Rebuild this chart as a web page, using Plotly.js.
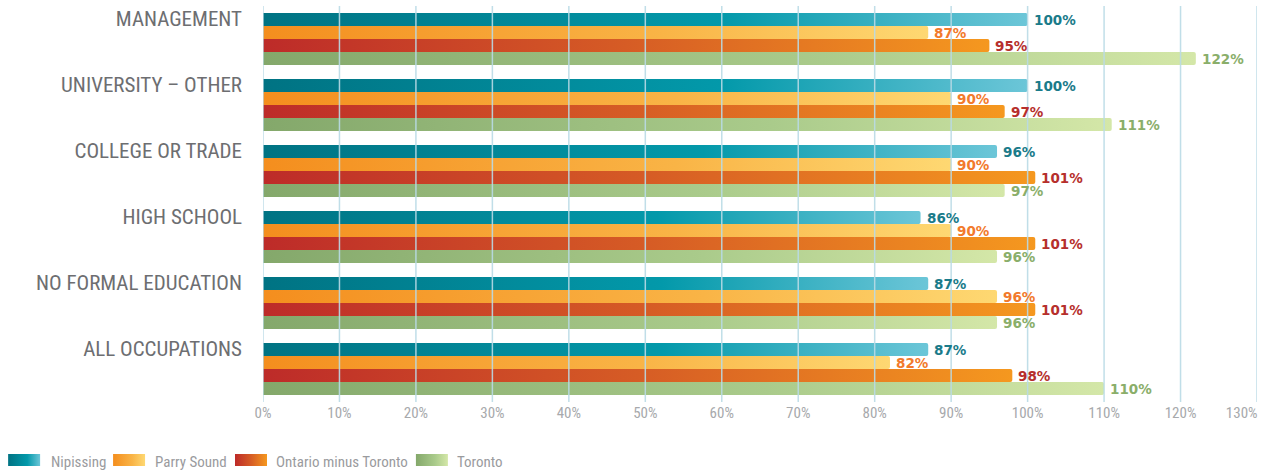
<!DOCTYPE html>
<html>
<head>
<meta charset="utf-8">
<script src="https://cdn.plot.ly/plotly-3.0.1.min.js"></script>
<style>
  html, body { margin: 0; padding: 0; background: #fff; }
  #chart { width: 1263px; height: 474px; }
</style>
</head>
<body>
<div id="chart"></div>
<script>
// data, top category first
const categories = ["MANAGEMENT", "UNIVERSITY – OTHER", "COLLEGE OR TRADE", "HIGH SCHOOL", "NO FORMAL EDUCATION", "ALL OCCUPATIONS"];
const seriesNames = ["Nipissing", "Parry Sound", "Ontario minus Toronto", "Toronto"];
const nipissing = [100, 100, 96, 86, 87, 87];
const parrySound = [87, 90, 90, 90, 96, 82];
const ontarioMinusToronto = [95, 97, 101, 101, 101, 98];
const toronto = [122, 111, 97, 96, 96, 110];
const gridTicks = [0, 10, 20, 30, 40, 50, 60, 70, 80, 90, 100, 110, 120, 130];
const tickText = gridTicks.map(v => v + "%");

// styling
const baseColors = ["#0b8d9e", "#f8a838", "#d55a26", "#a4c484"];
const labelColors = ["#1a7b8a", "#f27a2c", "#b62f2c", "#8aae6a"];
const gradStops = [
  [[0, "#007383"], [0.6, "#0399aa"], [1, "#6cc6d8"]],
  [[0, "#f48e1e"], [0.6, "#f9b446"], [1, "#fed872"]],
  [[0, "#bd2b29"], [0.5, "#d65c25"], [1, "#f5981f"]],
  [[0, "#84a86b"], [0.6, "#aacb8b"], [1, "#d4e7a8"]]
];
const narrow = "'Liberation Sans Narrow', 'Roboto Condensed', 'DejaVu Sans Condensed', sans-serif";
const barPx = 13; // thickness of one bar

// plot box in pixels (used for legend placement)
const plotL = 263, plotR = 1257.5, plotT = 6, plotB = 402;
const px = x => (x - plotL) / (plotR - plotL);
const py = y => (plotB - y) / (plotB - plotT);

const values = [nipissing, parrySound, ontarioMinusToronto, toronto];
const traces = values.map((vals, i) => ({
  type: "bar",
  orientation: "h",
  name: seriesNames[i],
  y: categories,
  x: vals,
  marker: { color: baseColors[i], line: { width: 0 } },
  hoverinfo: "skip"
}));

// gridlines sit over the bars
const shapes = gridTicks.map(t => ({
  type: "line", xref: "x", yref: "paper",
  x0: t, x1: t, y0: 0, y1: 1.0,
  line: { color: "rgba(185,218,230,0.9)", width: 1.5 },
  layer: "above"
}));

// value labels (annotations so they stay above the gridlines)
const annotations = [];
values.forEach((vals, i) => {
  vals.forEach((v, j) => {
    annotations.push({
      xref: "x", yref: "y", x: v, y: categories[j],
      xanchor: "left", yanchor: "middle", xshift: 4, yshift: (1.5 - i) * barPx,
      showarrow: false, text: v + "%",
      font: { family: "'DejaVu Sans', sans-serif", size: 13.5, weight: "bold", color: labelColors[i] }
    });
  });
});

// legend
const legendSwatch = [[8, 40], [113, 145], [235, 267], [416, 448]];
const legendText = [49, 153, 274, 455];
seriesNames.forEach((n, i) => {
  shapes.push({
    type: "rect", xref: "paper", yref: "paper",
    x0: px(legendSwatch[i][0]), x1: px(legendSwatch[i][1]),
    y0: py(466), y1: py(454),
    fillcolor: baseColors[i], line: { width: 0 }
  });
  annotations.push({
    xref: "paper", yref: "paper", x: px(legendText[i]), y: py(462),
    xanchor: "left", yanchor: "middle", showarrow: false,
    text: n, font: { family: narrow, size: 15, color: "#9a9b9e" }
  });
});

// 130% label is squeezed inside the chart in the original
const tickPos = gridTicks.slice();
tickPos[tickPos.length - 1] = 128;

const layout = {
  width: 1263, height: 474,
  margin: { l: plotL, r: 1263 - plotR, t: plotT, b: 474 - plotB },
  paper_bgcolor: "#fff", plot_bgcolor: "#fff",
  showlegend: false,
  barmode: "group",
  bargap: 0.212,
  bargroupgap: 0,
  barcornerradius: 2,
  xaxis: {
    range: [0, 130], showgrid: false, zeroline: false, showline: false,
    tickvals: tickPos, ticktext: tickText, ticks: "",
    tickfont: { family: narrow, size: 15, color: "#a7a9ac" }
  },
  yaxis: {
    type: "category", autorange: "reversed",
    showgrid: false, zeroline: false, showline: false, ticks: "",
    ticklabelshift: 20, ticklabelstandoff: 20,
    tickfont: { family: narrow, size: 21, color: "#6d6e71" }
  },
  shapes: shapes,
  annotations: annotations
};

function hexToRgb(h) {
  const n = parseInt(h.slice(1), 16);
  return "rgb(" + (n >> 16) + ", " + ((n >> 8) & 255) + ", " + (n & 255) + ")";
}
const baseRgb = baseColors.map(hexToRgb);

function applyGradients() {
  const gd = document.getElementById("chart");
  const svg = gd.querySelector("svg.main-svg");
  if (!svg) return;
  if (!document.getElementById("grad0")) {
    const ns = "http://www.w3.org/2000/svg";
    const defs = document.createElementNS(ns, "defs");
    gradStops.forEach((stops, i) => {
      const g = document.createElementNS(ns, "linearGradient");
      g.setAttribute("id", "grad" + i);
      g.setAttribute("x1", "0"); g.setAttribute("x2", "1");
      g.setAttribute("y1", "0"); g.setAttribute("y2", "0");
      stops.forEach(s => {
        const st = document.createElementNS(ns, "stop");
        st.setAttribute("offset", s[0]);
        st.setAttribute("stop-color", s[1]);
        g.appendChild(st);
      });
      defs.appendChild(g);
    });
    svg.insertBefore(defs, svg.firstChild);
  }
  gd.querySelectorAll("path").forEach(p => {
    const k = baseRgb.indexOf(p.style.fill);
    if (k >= 0) p.style.fill = "url(#grad" + k + ")";
  });
}

Plotly.newPlot("chart", traces, layout, { displayModeBar: false, staticPlot: true }).then(gd => {
  applyGradients();
  gd.on("plotly_afterplot", applyGradients);
});
</script>
</body>
</html>
